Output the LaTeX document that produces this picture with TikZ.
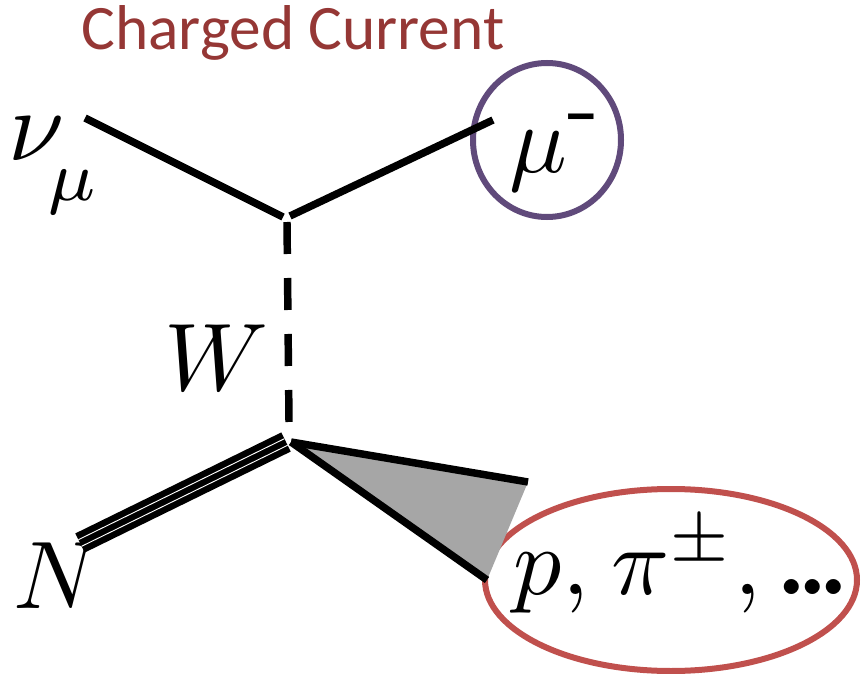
\documentclass[tikz,border=0pt]{standalone}
\usepackage{fontspec}
\usetikzlibrary{calc}
\newfontfamily\titlefont{Carlito}
\definecolor{titlered}{HTML}{953735}
\definecolor{ellred}{HTML}{C0504D}
\definecolor{ellpurple}{HTML}{604A7B}
\definecolor{blobgray}{HTML}{A6A6A6}
\begin{document}
\begin{tikzpicture}[x=0.75pt,y=-0.75pt,
  fermion/.style={line width=5.6pt,line cap=butt},
  boson/.style={line width=5.6pt,dash pattern=on 24pt off 18pt},
  lbl/.style={inner sep=0pt,scale=7.2},
  ring/.style={line width=4.5pt}]
\useasboundingbox (0,0) rectangle (861,674);
% title
\node[inner sep=0pt,anchor=base,text=titlered,text height=30pt,text depth=9pt,font=\titlefont\fontsize{47.5}{52}\selectfont] (title) at (293,50) {Charged Current};
% vertices and ends
\coordinate (vtop) at (287,216);
\coordinate (vbot) at (289,442);
\coordinate (nu) at (85,118);
\coordinate (mu) at (493,120);
\coordinate (nend) at (80,543);
\coordinate (hadA) at (528,482);
\coordinate (hadB) at (487,580);
% labels
\node[lbl,anchor=base west,scale=1.05] (nulbl) at (6,160) {$\nu_{\kern-0.1em\lower2.5pt\hbox{$\scriptstyle\mu$}}$};
\node[lbl,anchor=base west] (mulbl) at (508,172) {$\mu^{\textrm{-}}$};
\node[lbl,anchor=base west] (wlbl) at (163,390) {$W$};
\node[lbl,anchor=base west] (nlbl) at (12,608) {$N$};
\node[lbl,anchor=base west] (hlbl) at (512,594) {$p$,\kern-0.1em\ $\pi^{\pm}$,\kern-0.17em\ \textbf{.\kern-0.1em.\kern-0.1em.}};
% circles
\draw[ring,ellpurple] (547,140) ellipse [x radius=74, y radius=77];
\draw[ring,ellred] (671,580) ellipse [x radius=186, y radius=91];
% fermion lines
\draw[fermion] (nu) -- ($(vtop)+(-4,1)$);
\draw[fermion] ($(vtop)+(3,0)$) -- (mu);
% W boson
\draw[boson] ($(vtop)+(0,6)$) -- ($(vbot)+(0,-20)$);
% nucleus triple line
\draw[line width=16pt,line cap=butt] (nend) -- ($(vbot)+(-3,0)$);
\path (nend) -- ($(vbot)+(-3,0)$) coordinate[pos=0] (na) coordinate[pos=1] (nb);
\draw[white,line width=0.7pt] ($(na)+(-1.6,-3.3)$) -- ($(nb)+(-1.6,-3.3)$);
\draw[white,line width=0.7pt] ($(na)+(1.6,3.3)$) -- ($(nb)+(1.6,3.3)$);
% hadronic blob
\fill[blobgray] ($(vbot)+(4,2)$) -- (hadA) -- (hadB) -- cycle;
\draw[fermion] ($(vbot)+(2,0)$) -- (hadA);
\draw[fermion] ($(vbot)+(2,0)$) -- (hadB);
\end{tikzpicture}
\end{document}
